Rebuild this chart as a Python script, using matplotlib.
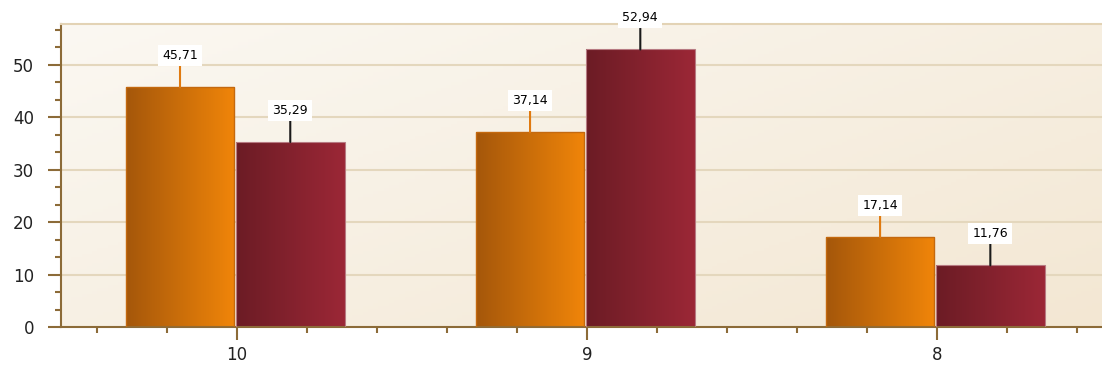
import numpy as np
import matplotlib
matplotlib.use("Agg")
import matplotlib.pyplot as plt
from matplotlib.colors import LinearSegmentedColormap

categories = ["10", "9", "8"]
series_a = [45.71, 37.14, 17.14]
series_b = [35.29, 52.94, 11.76]
labels_a = ["45,71", "37,14", "17,14"]
labels_b = ["35,29", "52,94", "11,76"]

W, H = 1102, 369
fig = plt.figure(figsize=(W / 100, H / 100), dpi=100)
fig.patch.set_facecolor("white")
ax = fig.add_axes([61 / W, (H - 327) / H, 1 - 61 / W, (327 - 24) / H])

x = np.arange(len(categories))
xmin, xmax = -0.503, 2.471
ymax = 57.8
ax.set_xlim(xmin, xmax)
ax.set_ylim(0, ymax)

# background gradient: light top-left, slightly warmer bottom-right
bg = LinearSegmentedColormap.from_list("bg", ["#FBF8F2", "#F3E7D3"])
gx, gy = np.meshgrid(np.linspace(0, 1, 200), np.linspace(0, 1, 100))
grad = gx * 0.55 + gy * 0.45  # origin upper: gy=1 at bottom
ax.imshow(grad, cmap=bg, extent=(xmin, xmax, 0, ymax), origin="upper",
          aspect="auto", zorder=0)

for yv in range(10, 60, 10):
    ax.axhline(yv, color="#E4D7BD", lw=1.5, zorder=1)

w = 0.31
off_a, off_b = -0.163, 0.152
bars_a = ax.bar(x + off_a, series_a, w, color="none", edgecolor="#C4690F", lw=1.0, zorder=3)
bars_b = ax.bar(x + off_b, series_b, w, color="none", edgecolor="#B77A82", lw=0.8, zorder=3)

cm_a = LinearSegmentedColormap.from_list("a", ["#A5570B", "#F08509"])
cm_b = LinearSegmentedColormap.from_list("b", ["#6C1C25", "#9B2736"])
g = np.linspace(0, 1, 100).reshape(1, -1)
for bars, cm in ((bars_a, cm_a), (bars_b, cm_b)):
    for b in bars:
        x0 = b.get_x()
        x1 = x0 + b.get_width()
        h = b.get_height()
        ax.imshow(g, cmap=cm, extent=(x0, x1, 0, h), aspect="auto", zorder=2)

ax.set_xlim(xmin, xmax)
ax.set_ylim(0, ymax)

def label(bars, texts, lcolor):
    for b, t in zip(bars, texts):
        cx = b.get_x() + b.get_width() / 2
        h = b.get_height()
        ax.annotate(t, xy=(cx, h), xytext=(0, 18.2), textcoords="offset points",
                    ha="center", va="bottom", fontsize=9, color="black",
                    family="DejaVu Sans",
                    bbox=dict(boxstyle="square,pad=0.33", fc="white", ec="none"),
                    arrowprops=dict(arrowstyle="-", color=lcolor, lw=1.5,
                                    shrinkA=0, shrinkB=0),
                    zorder=5, annotation_clip=False)

label(bars_a, labels_a, "#E07A10")
label(bars_b, labels_b, "#1A1A1A")

axis_c = "#8C6B38"
ax.spines["right"].set_visible(False)
ax.spines["top"].set_color("#E3D3B5")
ax.spines["top"].set_linewidth(1.5)
ax.spines["left"].set_color(axis_c)
ax.spines["bottom"].set_color(axis_c)
ax.spines["left"].set_linewidth(1.5)
ax.spines["bottom"].set_linewidth(1.5)

ax.set_yticks(range(0, 60, 10))
ax.set_yticks(np.arange(0, ymax, 10 / 3), minor=True)
ax.set_xticks(x)
ax.set_xticklabels(categories)
minor_x = [c + d for c in x for d in (-0.4, -0.2, 0.2, 0.4)]
ax.set_xticks([m for m in minor_x if xmin < m < xmax], minor=True)
ax.tick_params(axis="both", which="major", direction="out", length=9.5, width=1.5,
               color=axis_c, labelsize=12, labelcolor="#222222")
ax.tick_params(axis="both", which="minor", direction="out", length=4, width=1.5,
               color=axis_c)
ax.tick_params(axis="y", which="major", pad=10)
ax.tick_params(axis="x", which="major", pad=4)

fig.savefig("out.png", dpi=100)
